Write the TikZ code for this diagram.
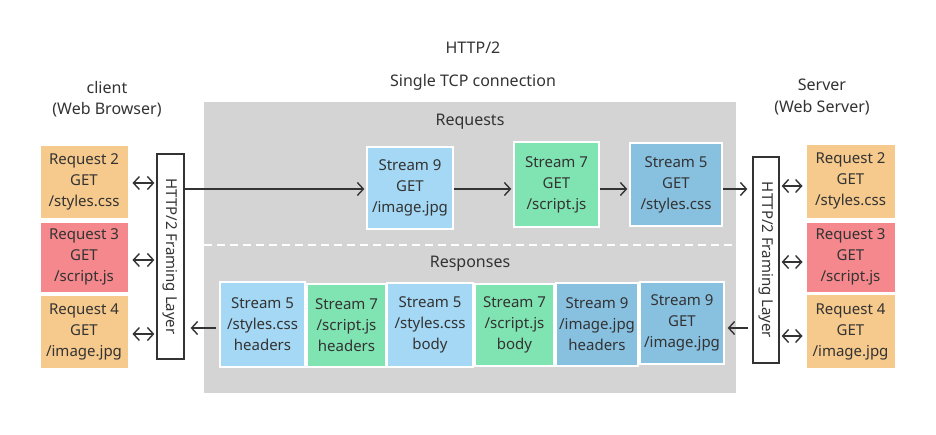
\documentclass[tikz,border=0pt]{standalone}
\usepackage{fontspec}
\setmainfont{Noto Sans}
\usetikzlibrary{arrows.meta}
\definecolor{ink}{HTML}{333333}
\definecolor{reqorange}{HTML}{F6C98C}
\definecolor{reqred}{HTML}{F4888C}
\definecolor{lblue}{HTML}{A5D8F4}
\definecolor{sgreen}{HTML}{80E3B2}
\definecolor{dblue}{HTML}{88C0E0}
\definecolor{tcpgray}{HTML}{D4D4D4}
\begin{document}
\begin{tikzpicture}[x=1pt,y=-1pt,
  txt/.style={text=ink, align=center, font=\fontsize{15}{21}\selectfont},
  lbl/.style={text=ink, align=center, font=\fontsize{16}{21}\selectfont},
  reqbox/.style={txt, fill=#1, draw=white, line width=1pt, inner sep=0pt},
  strbox/.style={txt, fill=#1, draw=white, line width=1.4pt, inner sep=0pt},
  framebox/.style={txt, fill=white, draw=ink, line width=1.3pt, inner sep=0pt},
  arr/.style={draw=ink, line width=1.4pt, -{Straight Barb[length=6pt,width=13pt]}},
  darr/.style={draw=ink, line width=1.4pt, {Straight Barb[length=6pt,width=13pt]}-{Straight Barb[length=6pt,width=13pt]}}
]
\useasboundingbox (0,0) rectangle (936,434);
\fill[white] (0,0) rectangle (936,434);

% titles
\node[lbl] (title) at (473,48) {HTTP/2};
\node[lbl] (tcp) at (473,82) {Single TCP connection};
\node[lbl] (client) at (107,87) {client};
\node[lbl] (clientsub) at (107,110) {(Web Browser)};
\node[lbl] (server) at (822,85) {Server};
\node[lbl] (serversub) at (822,108) {(Web Server)};

% TCP connection area
\fill[tcpgray] (204,102) rectangle (736,393);
\draw[white, line width=2pt, dash pattern=on 8pt off 5pt] (204,245) -- (736,245);
\node[lbl] (reqlabel) at (470,122) {Requests};
\node[lbl] (resplabel) at (470,264) {Responses};

% client requests
\node[reqbox=reqorange, minimum width=88pt, minimum height=73pt] (L2) at (84,181.5) {Request 2\\GET\\/styles.css};
\node[reqbox=reqred, minimum width=88pt, minimum height=70pt] (L3) at (84,257) {Request 3\\GET\\/script.js};
\node[reqbox=reqorange, minimum width=88pt, minimum height=73pt] (L4) at (84,331.5) {Request 4\\GET\\/image.jpg};

% server requests
\node[reqbox=reqorange, minimum width=89pt, minimum height=74pt] (R2) at (850.5,181) {Request 2\\GET\\/styles.css};
\node[reqbox=reqred, minimum width=89pt, minimum height=70pt] (R3) at (850.5,257) {Request 3\\GET\\/script.js};
\node[reqbox=reqorange, minimum width=89pt, minimum height=74pt] (R4) at (850.5,331.5) {Request 4\\GET\\/image.jpg};

% framing layers
\node[framebox, minimum width=27pt, minimum height=205pt] (LF) at (170.5,256.5) {};
\node[txt, rotate=-90] (LFt) at (LF.center) {HTTP/2 Framing Layer};
\node[framebox, minimum width=26pt, minimum height=206pt] (RF) at (766,260) {};
\node[txt, rotate=-90] (RFt) at (RF.center) {HTTP/2 Framing Layer};

% request streams
\node[strbox=lblue, minimum width=86pt, minimum height=82pt] (S9) at (410,188) {Stream 9\\GET\\/image.jpg};
\node[strbox=sgreen, minimum width=85pt, minimum height=85pt] (S7) at (556.5,184.5) {Stream 7\\GET\\/script.js};
\node[strbox=dblue, minimum width=92pt, minimum height=83pt] (S5) at (676,184.5) {Stream 5\\GET\\/styles.css};

% response frames
\node[strbox=lblue, minimum width=85pt, minimum height=85pt] (B1) at (262.5,324.5) {Stream 5\\/styles.css\\headers};
\node[strbox=sgreen, minimum width=79pt, minimum height=83pt] (B2) at (346.5,325.5) {Stream 7\\/script.js\\headers};
\node[strbox=lblue, minimum width=86pt, minimum height=84pt] (B3) at (430,325) {Stream 5\\/styles.css\\body};
\node[strbox=sgreen, minimum width=79pt, minimum height=82pt] (B4) at (514.5,325) {Stream 7\\/script.js\\body};
\node[strbox=dblue, minimum width=82pt, minimum height=83pt] (B5) at (597,324.5) {Stream 9\\/image.jpg\\headers};
\node[strbox=dblue, minimum width=84pt, minimum height=82pt] (B6) at (682,323) {Stream 9\\GET\\/image.jpg};

% request flow
\coordinate (qy) at (0,189);
\coordinate (ry) at (0,328);
\draw[arr, shorten >=2pt] (LF.east |- qy) -- (S9.west |- qy);
\draw[arr, shorten >=2pt] (S9.east |- qy) -- (S7.west |- qy);
\draw[arr, shorten >=2pt] (S7.east |- qy) -- (S5.west |- qy);
\draw[arr, shorten >=5pt] (S5.east |- qy) -- (RF.west |- qy);

% response flow
\draw[arr, shorten <=4pt, shorten >=3pt] (RF.west |- ry) -- (B6.east |- ry);
\draw[arr, shorten <=3pt, shorten >=6pt] (B1.west |- ry) -- (LF.east |- ry);

% client side double arrows
\draw[darr, shorten <=4pt, shorten >=2pt] (L2.east |- 0,183) -- (LF.west |- 0,183);
\draw[darr, shorten <=4pt, shorten >=2pt] (L3.east |- 0,260) -- (LF.west |- 0,260);
\draw[darr, shorten <=4pt, shorten >=2pt] (L4.east |- 0,334) -- (LF.west |- 0,334);

% server side double arrows
\draw[darr, shorten <=2pt, shorten >=3pt] (RF.east |- 0,186) -- (R2.west |- 0,186);
\draw[darr, shorten <=2pt, shorten >=3pt] (RF.east |- 0,262) -- (R3.west |- 0,262);
\draw[darr, shorten <=2pt, shorten >=3pt] (RF.east |- 0,336) -- (R4.west |- 0,336);
\end{tikzpicture}
\end{document}
